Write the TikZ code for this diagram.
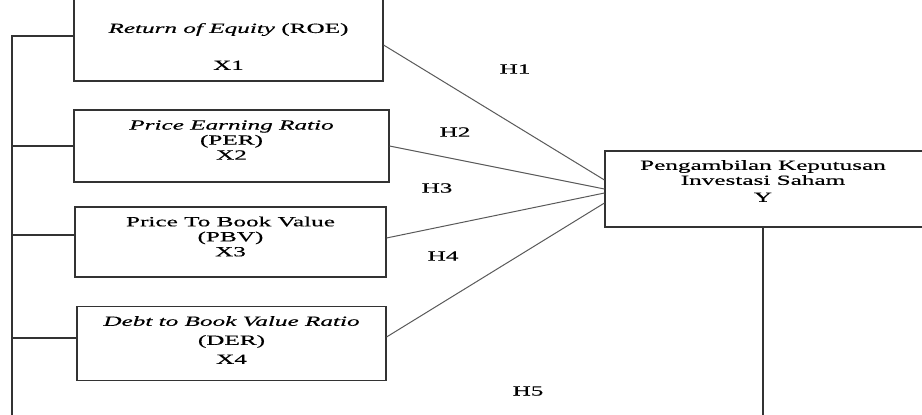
\documentclass[tikz,border=0pt]{standalone}
\usepackage{fontspec}
\setmainfont{Liberation Serif}[FakeStretch=1.8,FakeBold=0.4]
\usepackage{tikz}
\usetikzlibrary{positioning}

\begin{document}
\begin{tikzpicture}[x=1pt,y=-1pt,
  box/.style={draw=black!80,line width=1.1pt,inner sep=0pt},
  txt/.style={align=center,inner sep=0pt,font=\fontsize{14}{15}\selectfont},
  hyp/.style={inner sep=0pt,font=\fontsize{14}{15}\selectfont},
  link/.style={draw=black!65,line width=1pt},
  frame/.style={draw=black!80,line width=1.1pt}]
\useasboundingbox (0,0) rectangle (922,415);
\clip (0,0) rectangle (922,415);
% independent variables
\node[box,minimum width=309,minimum height=96] (roe) at (228.5,33) {};
\node[box,minimum width=315,minimum height=72] (per) at (231.5,146) {};
\node[box,minimum width=311,minimum height=70] (pbv) at (230.5,242) {};
\node[box,minimum width=309,minimum height=74] (der) at (231.5,343.5) {};
\node[txt] (roetxt) at (228.5,46.5) {\textit{Return of Equity} (ROE)\\[22pt]X1};
\node[txt] (pertxt) at (231.5,140) {\textit{Price Earning Ratio}\\(PER)\\X2};
\node[txt] (pbvtxt) at (230.5,236.5) {Price To Book Value\\(PBV)\\X3};
\node[txt] (dertxt) at (231.5,340) {\textit{Debt to Book Value Ratio}\\[4pt](DER)\\[4pt]X4};
% dependent variable
\node[box,minimum width=330,minimum height=76] (inv) at (770,189) {};
\node[txt] (invtxt) at (763,181) {Pengambilan Keputusan\\Investasi Saham\\[2pt]Y};
% hypotheses
\node[hyp] (h1) at (515,69) {H1};
\node[hyp] (h2) at (455,132) {H2};
\node[hyp] (h3) at (437,188) {H3};
\node[hyp] (h4) at (443,256) {H4};
\node[hyp] (h5) at (528,391) {H5};
% partial paths
\draw[link] (roe.east|-0,45) -- (inv.west|-0,180);
\draw[link] (per.east) -- (inv.west|-0,189);
\draw[link] (pbv.east|-0,238) -- (inv.west|-0,193);
\draw[link] (der.east|-0,337) -- (inv.west|-0,203);
% simultaneous path
\coordinate (lbot) at (12,420);
\coordinate (rbot) at (763,420);
\draw[frame] (roe.west|-0,36) -| (lbot);
\draw[frame] (per.west) -- (12,146);
\draw[frame] (pbv.west|-0,235) -- (12,235);
\draw[frame] (der.west|-0,338) -- (12,338);
\draw[frame] (inv.south-|rbot) -- (rbot);
\end{tikzpicture}
\end{document}
